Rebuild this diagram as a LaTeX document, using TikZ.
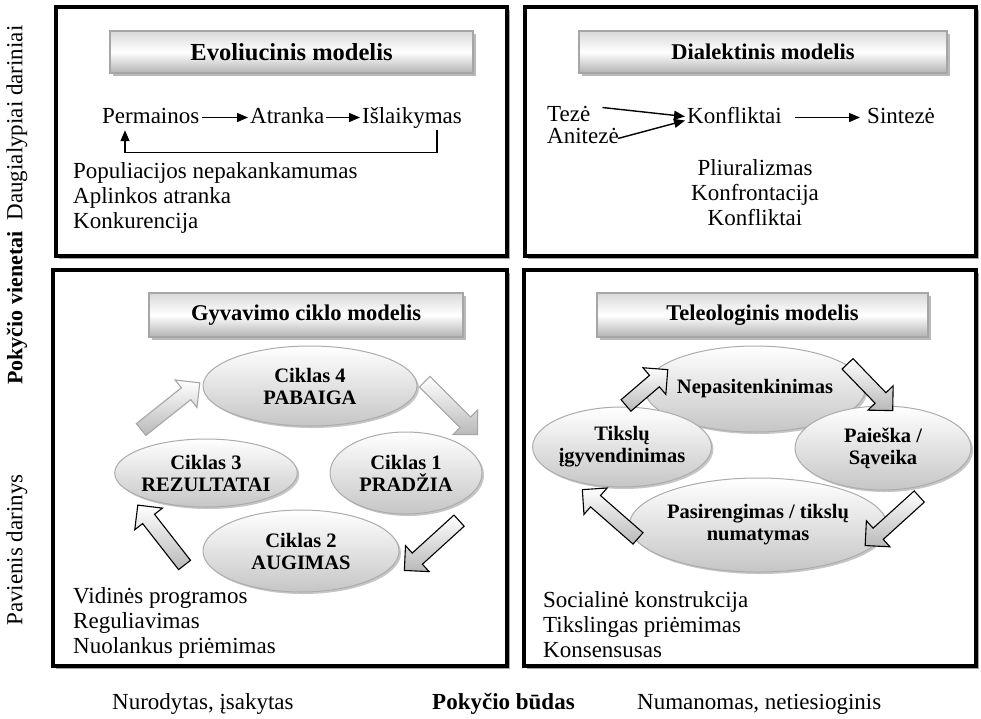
\documentclass[tikz,border=0pt]{standalone}
\usepackage{fontspec}
\setmainfont{Liberation Serif}
\usetikzlibrary{shapes.geometric,shapes.arrows,shadows,arrows.meta}

\tikzset{
  txt/.style={font=\fontsize{23}{25}\selectfont, inner sep=0pt},
  flow/.style={txt, inner sep=2pt, text height=16pt, text depth=5pt},
  arr/.style={-{Triangle[length=11pt,width=9pt]}, line width=1.4pt},
  outer/.style={draw, fill=white, line width=3.5pt,
    drop shadow={shadow xshift=2.5pt, shadow yshift=-2.5pt, fill=gray!70, opacity=1}},
  title/.style={draw=gray!70, line width=1.2pt, top color=gray!30, bottom color=gray!60,
    middle color=white, minimum height=42pt, inner sep=0pt,
    font=\bfseries\fontsize{22.5}{24}\selectfont,
    drop shadow={shadow xshift=3pt, shadow yshift=-3pt, fill=gray!55, opacity=1}},
  cycl/.style={ellipse, draw=gray!65, line width=1pt, top color=white, bottom color=gray!45,
    inner sep=0pt, align=center, font=\bfseries\fontsize{20.5}{22}\selectfont,
    drop shadow={shadow xshift=2pt, shadow yshift=-2pt, fill=gray!45, opacity=1}},
  blockarr/.style={single arrow, draw=black, line width=1.1pt, inner xsep=0pt, inner ysep=7pt,
    single arrow head extend=10pt,
    top color=white, bottom color=gray!55},
  greyarr/.style={blockarr, draw=gray!70}
}

\begin{document}
\begin{tikzpicture}[x=1pt,y=-1pt]
\useasboundingbox (0,0) rectangle (981,718);

% outer frames
\path[outer] (56,7) rectangle (507,256);
\path[outer] (525,7) rectangle (976,256);
\path[outer] (53,270) rectangle (507,666);
\path[outer] (524,270) rectangle (976,666);

% side labels
\node[txt, rotate=90] (multi) at (17,123) {Daugialypiai dariniai};
\node[txt, rotate=90, font=\bfseries\fontsize{22}{24}\selectfont] (units) at (17,308) {Pokyčio vienetai};
\node[txt, rotate=90] (single) at (17,550) {Pavienis darinys};

% evolution model
\node[title, minimum width=363pt, font=\bfseries\fontsize{24.5}{26}\selectfont] (evo) at (291.5,52) {Evoliucinis modelis};
\node[flow, anchor=base west] (perm) at (100,123) {Permainos};
\node[flow, anchor=base west] (atr) at (248,123) {Atranka};
\node[flow, anchor=base west] (isl) at (360,123) {Išlaikymas};
\draw[arr] (perm) -- (atr);
\draw[arr] (atr) -- (isl);
\draw[arr] ([xshift=-27pt]isl.south east) -- ++(0,22) -| ([xshift=25pt]perm.south west);
\node[txt, anchor=north west, align=left] (evolist) at (73,162) {Populiacijos nepakankamumas\\Aplinkos atranka\\Konkurencija};

% dialectic model
\node[title, minimum width=368pt] (dial) at (763,52) {Dialektinis modelis};
\node[txt, anchor=base west] (teze) at (547,121) {Tezė};
\node[txt, anchor=base west] (anit) at (547,143) {Anitezė};
\node[flow, anchor=base west] (konf) at (685,123) {Konfliktai};
\node[flow, anchor=base west] (sint) at (865,123) {Sintezė};
\draw[arr] ([xshift=12pt,yshift=6pt]teze.east) -- ([yshift=1pt]konf.west);
\draw[arr] ([xshift=-1pt,yshift=-3pt]anit.east) -- ([yshift=-3pt]konf.west);
\draw[arr, shorten <=11pt, shorten >=5pt] (konf) -- (sint);
\node[txt, anchor=north, align=center] (diallist) at (755,159) {Pliuralizmas\\Konfrontacija\\Konfliktai};

% life cycle model
\node[title, minimum width=314pt, minimum height=44pt] (life) at (306,315) {Gyvavimo ciklo modelis};
\node[cycl, minimum width=214pt, minimum height=80pt] (c4) at (310,386) {Ciklas 4\\PABAIGA};
\node[cycl, minimum width=158pt, minimum height=68pt] (c3) at (206,473) {Ciklas 3\\REZULTATAI};
\node[cycl, minimum width=152pt, minimum height=82pt] (c1) at (406,473) {Ciklas 1\\PRADŽIA};
\node[cycl, minimum width=196pt, minimum height=82pt] (c2) at (301,551) {Ciklas 2\\AUGIMAS};
\node[greyarr, minimum height=75pt, rotate=38.5] (a34) at (167.5,408.5) {};
\node[greyarr, minimum height=75pt, rotate=-45] (a41) at (448.5,405.5) {};
\node[blockarr, minimum height=74pt, rotate=-137.7] (a12) at (434.5,543) {};
\node[blockarr, minimum height=76pt, rotate=128] (a23) at (163.5,538) {};
\node[txt, anchor=north west, align=left] (lifelist) at (73,587) {Vidinės programos\\Reguliavimas\\Nuolankus priėmimas};

% teleological model
\node[title, minimum width=331pt, minimum height=44pt] (tele) at (762.5,315) {Teleologinis modelis};
\node[cycl, minimum width=172pt, minimum height=86pt] (nep) at (755,389) {Nepasitenkinimas};
\node[cycl, minimum width=176pt, minimum height=84pt] (pai) at (883,448) {Paieška /\\Sąveika};
\node[cycl, minimum width=160pt, minimum height=80pt] (tik) at (622,447) {Tikslų\\įgyvendinimas};
\node[cycl, minimum width=214pt, minimum height=94pt] (pas) at (758,525) {Pasirengimas / tikslų\\numatymas};
\node[blockarr, minimum height=55pt, rotate=40.6] (b1) at (644,390) {};
\node[blockarr, minimum height=65pt, rotate=-46] (b2) at (867.5,384.5) {};
\node[blockarr, minimum height=73pt, rotate=-137.8] (b3) at (895,518.5) {};
\node[blockarr, minimum height=74pt, rotate=138.8] (b4) at (613,516.5) {};
\node[txt, anchor=north west, align=left] (telelist) at (543,591) {Socialinė konstrukcija\\Tikslingas priėmimas\\Konsensusas};

% bottom axis
\node[txt, anchor=base west] (imposed) at (112,709) {Nurodytas, įsakytas};
\node[txt, anchor=base west, font=\bfseries\fontsize{23}{25}\selectfont] (mode) at (432,709) {Pokyčio būdas};
\node[txt, anchor=base west] (implied) at (637,709) {Numanomas, netiesioginis};
\end{tikzpicture}
\end{document}
